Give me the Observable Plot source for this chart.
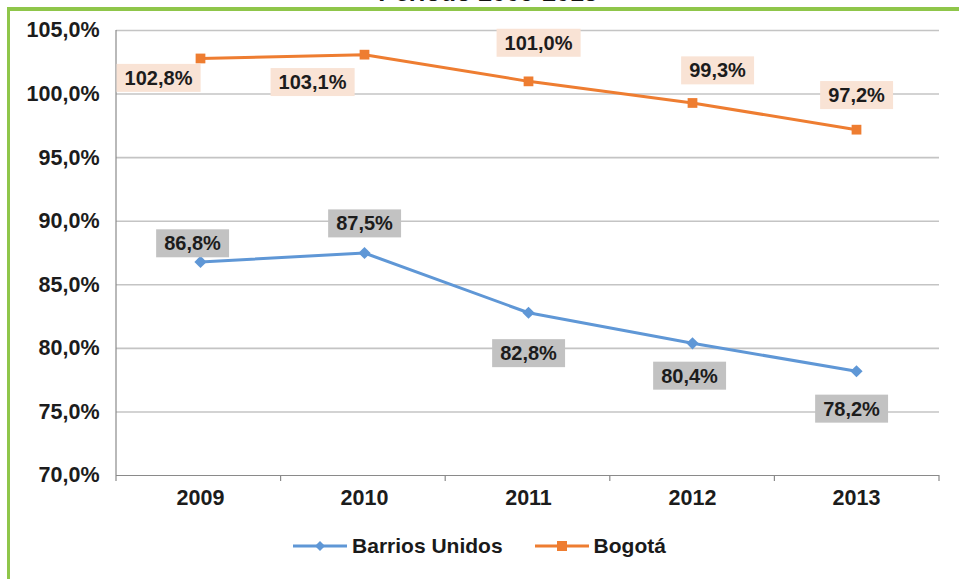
<!DOCTYPE html>
<html>
<head>
<meta charset="utf-8">
<script src="https://cdn.jsdelivr.net/npm/d3@7"></script>
<script src="https://cdn.jsdelivr.net/npm/@observablehq/plot@0.6"></script>
<style>
  html, body { margin: 0; padding: 0; background: #ffffff; }
  #wrap { position: relative; width: 959px; height: 579px; overflow: hidden; font-family: "Liberation Sans", Arial, sans-serif; }
  #title { position: absolute; left: 0; width: 976px; top: -20px; text-align: center; font-weight: bold; font-size: 25px; color: #111; line-height: 25px; }
  #frameTop { position: absolute; left: 7px; top: 7px; right: 0; height: 4px; background: #8fc64a; }
  #frameLeft { position: absolute; left: 7px; top: 7px; width: 3px; bottom: 0; background: #8fc64a; }
  #chart { position: absolute; left: 0; top: 0; }
  #legend { position: absolute; left: 0; width: 959px; top: 534px; display: flex; justify-content: center; gap: 32px; font-weight: bold; font-size: 21px; color: #1a1a1a; }
  #legend .item { display: flex; align-items: center; gap: 5px; }
</style>
</head>
<body>
<div id="wrap">
  <div id="title">Periodo 2009-2013</div>
  <div id="frameTop"></div>
  <div id="frameLeft"></div>
  <div id="chart"></div>
  <div id="legend"></div>
</div>
<script>
// ---- Data ----
const years = ["2009", "2010", "2011", "2012", "2013"];
const barriosUnidos = [86.8, 87.5, 82.8, 80.4, 78.2];
const bogota = [102.8, 103.1, 101.0, 99.3, 97.2];
const seriesNames = ["Barrios Unidos", "Bogotá"];
const yTicks = [70, 75, 80, 85, 90, 95, 100, 105];

// ---- Label placement (pixel offsets, layout only) ----
const barriosOffsets = [[-8, -18], [0, -29], [0, 41], [-3, 33], [-5, 38]];
const bogotaOffsets = [[-42, 20], [-52, 28], [10, -38], [25, -32], [0, -34]];

const colors = { "Barrios Unidos": "#5f97d6", "Bogotá": "#ee7d31" };
const boxFill = { "Barrios Unidos": "#c2c2c2", "Bogotá": "#f9e3d5" };
const symbols = { "Barrios Unidos": "diamond2", "Bogotá": "square" };

const rows = [];
years.forEach((y, i) => {
  rows.push({ year: y, value: barriosUnidos[i], series: seriesNames[0], off: barriosOffsets[i] });
  rows.push({ year: y, value: bogota[i], series: seriesNames[1], off: bogotaOffsets[i] });
});

const fmt = v => v.toFixed(1).replace(".", ",") + "%";

// Band boundary ticks, axis line (non-data decoration)
function decorations(index, scales, values, dims) {
  const g = d3.create("svg:g");
  const x0 = dims.marginLeft, x1 = dims.width - dims.marginRight;
  const yb = dims.height - dims.marginBottom, yt = dims.marginTop;
  const n = years.length;
  const step = (x1 - x0) / n;
  for (let i = 0; i <= n; i++) {
    const xp = x0 + i * step;
    g.append("line").attr("x1", xp).attr("x2", xp).attr("y1", yb).attr("y2", yb + 6)
      .attr("stroke", "#8a8a8a").attr("stroke-width", 1.2);
  }
  g.append("line").attr("x1", x0).attr("x2", x0).attr("y1", yt).attr("y2", yb)
    .attr("stroke", "#8a8a8a").attr("stroke-width", 1.2);
  return g.node();
}

const labelMarks = rows.map(r => Plot.text([r], {
  x: "year", y: "value", text: d => fmt(d.value),
  dx: r.off[0], dy: r.off[1],
  fontSize: 20, fontWeight: "bold", fill: "#1c1c1c",
  fontFamily: "Liberation Sans, Arial, sans-serif",
  className: "lbl " + (r.series === "Bogotá" ? "lbl-bog" : "lbl-bu")
}));

const chart = Plot.plot({
  width: 959,
  height: 520,
  marginLeft: 116,
  marginRight: 20,
  marginTop: 30,
  marginBottom: 45,
  style: { fontFamily: "Liberation Sans, Arial, sans-serif", background: "transparent", overflow: "visible" },
  x: { type: "point", domain: years, padding: 0.5, label: null },
  y: { domain: [70, 105], ticks: yTicks, label: null },
  marks: [
    Plot.gridY(yTicks.filter(t => t > 70), { stroke: "#c4c4c4", strokeOpacity: 1, strokeWidth: 1.6 }),
    Plot.ruleY([70], { stroke: "#8a8a8a", strokeWidth: 1.2 }),
    decorations,
    Plot.axisY(yTicks, { tickSize: 0, tickPadding: 17, tickFormat: fmt, fontSize: 21.5, fontWeight: "bold", fill: "#1c1c1c", label: null }),
    Plot.axisX(years, { tickSize: 0, tickPadding: 14, fontSize: 21.5, fontWeight: "bold", fill: "#1c1c1c", label: null }),
    Plot.line(rows, { x: "year", y: "value", z: "series", stroke: d => colors[d.series], strokeWidth: 3 }),
    Plot.dot(rows, { x: "year", y: "value", symbol: d => symbols[d.series], fill: d => colors[d.series], stroke: "none", r: 5.5 }),
    ...labelMarks
  ]
});

document.getElementById("chart").append(chart);

// Label background boxes
d3.select(chart).selectAll("g.lbl").each(function () {
  const g = this;
  const isBog = g.classList.contains("lbl-bog");
  d3.select(g).selectAll("text").each(function () {
    const t = this;
    const bb = t.getBBox();
    const tr = t.getAttribute("transform");
    const rect = document.createElementNS("http://www.w3.org/2000/svg", "rect");
    rect.setAttribute("x", bb.x - 8);
    rect.setAttribute("y", bb.y - 3);
    rect.setAttribute("width", bb.width + 16);
    rect.setAttribute("height", bb.height + 6);
    rect.setAttribute("fill", isBog ? boxFill["Bogotá"] : boxFill["Barrios Unidos"]);
    if (tr) rect.setAttribute("transform", tr);
    t.parentNode.insertBefore(rect, t);
  });
});

// Legend
const legend = document.getElementById("legend");
seriesNames.forEach(name => {
  const item = document.createElement("div");
  item.className = "item";
  const sw = d3.create("svg").attr("width", 54).attr("height", 14);
  sw.append("line").attr("x1", 0).attr("x2", 54).attr("y1", 7).attr("y2", 7).attr("stroke", colors[name]).attr("stroke-width", 3);
  if (name === "Bogotá") {
    sw.append("rect").attr("x", 22).attr("y", 2).attr("width", 10).attr("height", 10).attr("fill", colors[name]);
  } else {
    sw.append("path").attr("d", "M27,2 L32,7 L27,12 L22,7 Z").attr("fill", colors[name]);
  }
  item.append(sw.node());
  const span = document.createElement("span");
  span.textContent = name;
  item.append(span);
  legend.append(item);
});
</script>
</body>
</html>
